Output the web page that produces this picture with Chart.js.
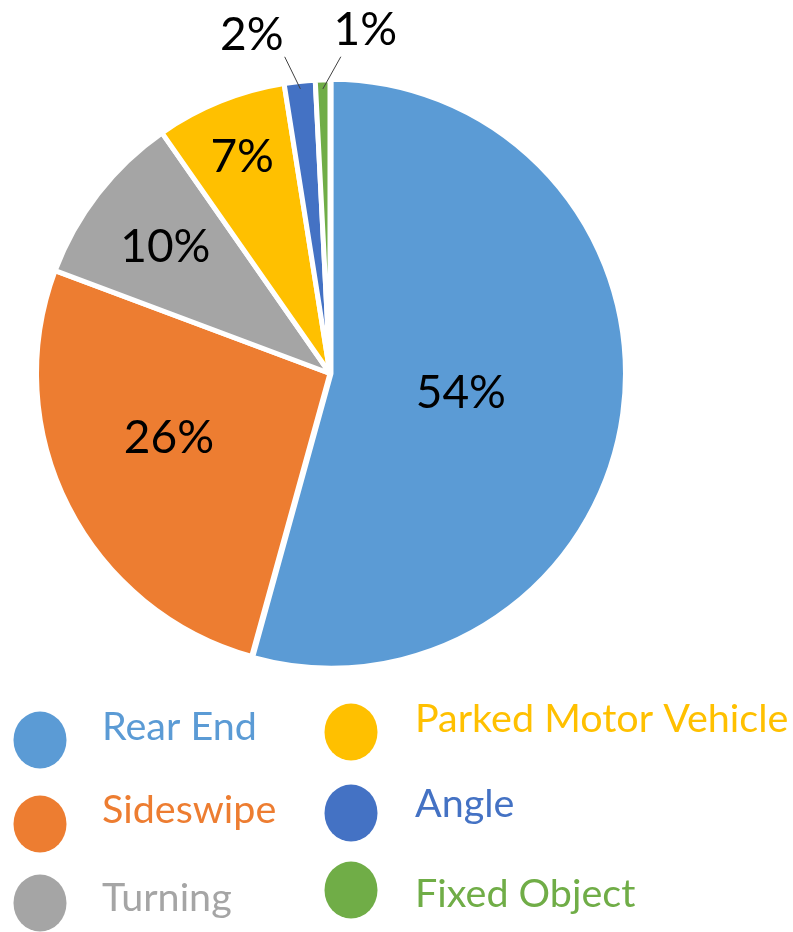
<!DOCTYPE html>
<html>
<head>
<meta charset="utf-8">
<script src="https://cdn.jsdelivr.net/npm/chart.js@4/dist/chart.umd.min.js"></script>
<style>
  html, body { margin: 0; padding: 0; background: #ffffff; }
  #wrap { position: relative; width: 793px; height: 932px; }
</style>
</head>
<body>
<div id="wrap"><canvas id="c" width="793" height="932"></canvas></div>
<script>
// ---- data ----
const categories = ['Rear End', 'Sideswipe', 'Turning', 'Parked Motor Vehicle', 'Angle', 'Fixed Object'];
const shares = [54.3, 26.4, 9.6, 7.2, 1.7, 0.8];
const sliceColors = ['#5B9BD5', '#ED7D31', '#A5A5A5', '#FFC000', '#4472C4', '#70AD47'];

const FONT = 'Lato, "Open Sans", "DejaVu Sans", sans-serif';

// label placement per slice: radial factor, angular nudge (deg), outside leader line?
const labelPlace = [
  { f: 0.45, nudge: 0 },
  { f: 0.59, nudge: 5.5 },
  { f: 0.71, nudge: 0 },
  { f: 0.80, nudge: 0 },
  { f: 1.19, nudge: -7, line: { f0: 0.975, f1: 1.09, nudge: -2.2 } },
  { f: 1.18, nudge: 7.3, line: { f0: 0.97, f1: 1.08, nudge: 3.4 } }
];

const pctLabels = {
  id: 'pctLabels',
  afterDatasetsDraw(chart) {
    const ctx = chart.ctx;
    const meta = chart.getDatasetMeta(0);
    const total = shares.reduce((a, b) => a + b, 0);
    ctx.save();
    ctx.font = '46px ' + FONT;
    ctx.fillStyle = '#000000';
    ctx.textAlign = 'center';
    ctx.textBaseline = 'alphabetic';
    meta.data.forEach((arc, i) => {
      const p = arc.getProps(['x', 'y', 'startAngle', 'endAngle', 'outerRadius'], true);
      const mid = (p.startAngle + p.endAngle) / 2;
      const spec = labelPlace[i];
      const R = p.outerRadius;
      if (spec.line) {
        const a0 = mid;
        const a1 = mid + spec.line.nudge * Math.PI / 180;
        ctx.beginPath();
        ctx.strokeStyle = '#404040';
        ctx.lineWidth = 1;
        ctx.moveTo(p.x + Math.cos(a0) * R * spec.line.f0, p.y + Math.sin(a0) * R * spec.line.f0);
        ctx.lineTo(p.x + Math.cos(a1) * R * spec.line.f1, p.y + Math.sin(a1) * R * spec.line.f1);
        ctx.stroke();
      }
      const a = mid + spec.nudge * Math.PI / 180;
      const cx = p.x + Math.cos(a) * R * spec.f;
      const cy = p.y + Math.sin(a) * R * spec.f;
      const txt = Math.round(shares[i] / total * 100) + '%';
      ctx.fillText(txt, cx, cy + 16.5);
    });
    ctx.restore();
  }
};

// custom legend: two columns, column-major order
const legendLayout = {
  cols: [
    { cx: 40, tx: 102, cy: [740, 824, 903], base: [740, 823, 911] },
    { cx: 351, tx: 415, cy: [732, 813, 890], base: [732, 817, 907] }
  ]
};
const sideLegend = {
  id: 'sideLegend',
  afterDraw(chart) {
    const ctx = chart.ctx;
    ctx.save();
    ctx.font = '39.5px ' + FONT;
    ctx.textAlign = 'left';
    ctx.textBaseline = 'alphabetic';
    categories.forEach((name, i) => {
      const col = legendLayout.cols[Math.floor(i / 3)];
      const row = i % 3;
      ctx.fillStyle = sliceColors[i];
      ctx.beginPath();
      ctx.ellipse(col.cx, col.cy[row], 26.5, 28.5, 0, 0, Math.PI * 2);
      ctx.fill();
      ctx.fillText(name, col.tx, col.base[row]);
    });
    ctx.restore();
  }
};

new Chart(document.getElementById('c'), {
  type: 'pie',
  data: {
    labels: categories,
    datasets: [{
      data: shares,
      backgroundColor: sliceColors,
      borderColor: '#ffffff',
      borderWidth: 5,
      offset: [4, 0, 0, 0, 0, 0],
      hoverOffset: 0
    }]
  },
  options: {
    responsive: false,
    devicePixelRatio: 1,
    animation: false,
    radius: 293.5,
    layout: { padding: { left: 0, right: 133, top: 0, bottom: 185 } },
    plugins: {
      legend: { display: false },
      tooltip: { enabled: false }
    },
    events: []
  },
  plugins: [pctLabels, sideLegend]
});
</script>
</body>
</html>
